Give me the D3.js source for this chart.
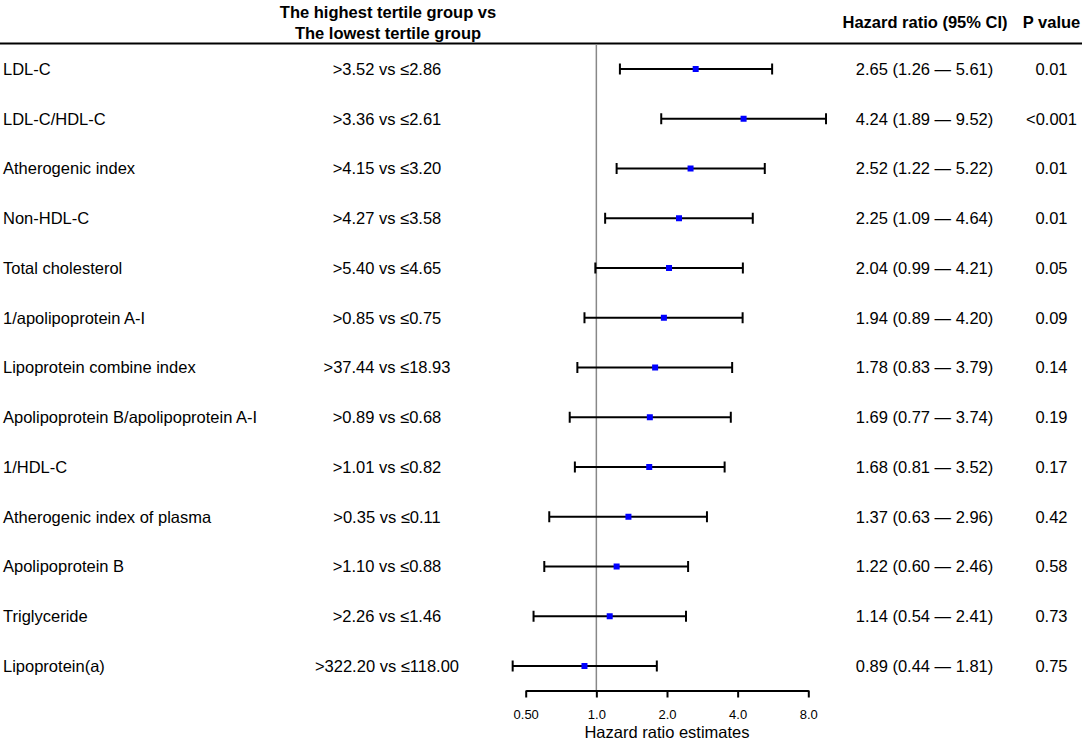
<!DOCTYPE html>
<html>
<head>
<meta charset="utf-8">
<script src="https://cdn.jsdelivr.net/npm/d3@7"></script>
<style>
  body { margin: 0; background: #fff; }
  text { font-family: "Liberation Sans", Arial, sans-serif; fill: #000; }
</style>
</head>
<body>
<div id="chart-area"></div>
<script>
// chart size matches the window
const width = 1084;
const height = 740;

// data
const variables = [
  'LDL-C',
  'LDL-C/HDL-C',
  'Atherogenic index',
  'Non-HDL-C',
  'Total cholesterol',
  '1/apolipoprotein A-I',
  'Lipoprotein combine index',
  'Apolipoprotein B/apolipoprotein A-I',
  '1/HDL-C',
  'Atherogenic index of plasma',
  'Apolipoprotein B',
  'Triglyceride',
  'Lipoprotein(a)',
];
const comparisons = [
  '>3.52 vs ≤2.86',
  '>3.36 vs ≤2.61',
  '>4.15 vs ≤3.20',
  '>4.27 vs ≤3.58',
  '>5.40 vs ≤4.65',
  '>0.85 vs ≤0.75',
  '>37.44 vs ≤18.93',
  '>0.89 vs ≤0.68',
  '>1.01 vs ≤0.82',
  '>0.35 vs ≤0.11',
  '>1.10 vs ≤0.88',
  '>2.26 vs ≤1.46',
  '>322.20 vs ≤118.00',
];
const hr = [2.65, 4.24, 2.52, 2.25, 2.04, 1.94, 1.78, 1.69, 1.68, 1.37, 1.22, 1.14, 0.89];
const lower = [1.26, 1.89, 1.22, 1.09, 0.99, 0.89, 0.83, 0.77, 0.81, 0.63, 0.60, 0.54, 0.44];
const upper = [5.61, 9.52, 5.22, 4.64, 4.21, 4.20, 3.79, 3.74, 3.52, 2.96, 2.46, 2.41, 1.81];
const pValues = ['0.01', '<0.001', '0.01', '0.01', '0.05', '0.09', '0.14', '0.19', '0.17', '0.42', '0.58', '0.73', '0.75'];
const tickValues = [0.5, 1, 2, 4, 8];
const tickLabels = ['0.50', '1.0', '2.0', '4.0', '8.0'];

const rows = variables.map((v, i) => ({
  name: v,
  comp: comparisons[i],
  hr: hr[i],
  lo: lower[i],
  hi: upper[i],
  p: pValues[i],
}));

const svg = d3
  .select('#chart-area')
  .append('svg')
  .attr('width', width)
  .attr('height', height);

// scales
const x = d3.scaleLog().base(2).domain([0.5, 8]).range([525.7, 808.3]);
const y = d3.scalePoint().domain(variables).range([69, 666]);

const fmt = d3.format('.2f');
const fontSize = 16.5;

// column headers
const header = svg.append('g').attr('font-weight', 'bold').attr('font-size', fontSize);
header
  .append('text')
  .attr('x', 388)
  .attr('y', 18)
  .attr('text-anchor', 'middle')
  .text('The highest tertile group vs');
header
  .append('text')
  .attr('x', 388)
  .attr('y', 39)
  .attr('text-anchor', 'middle')
  .text('The lowest tertile group');
header
  .append('text')
  .attr('x', 925)
  .attr('y', 28)
  .attr('text-anchor', 'middle')
  .text('Hazard ratio (95% CI)');
header
  .append('text')
  .attr('x', 1051.5)
  .attr('y', 28)
  .attr('text-anchor', 'middle')
  .text('P value');

// header rule
svg
  .append('line')
  .attr('x1', 0)
  .attr('x2', 1082)
  .attr('y1', 43.5)
  .attr('y2', 43.5)
  .attr('stroke', '#000')
  .attr('stroke-width', 2);

// reference line at HR = 1
svg
  .append('line')
  .attr('x1', x(1))
  .attr('x2', x(1))
  .attr('y1', 44)
  .attr('y2', 690)
  .attr('stroke', '#888')
  .attr('stroke-width', 1.5);

// row texts
const row = svg
  .selectAll('.row')
  .data(rows)
  .enter()
  .append('g')
  .attr('class', 'row')
  .attr('transform', (d) => `translate(0, ${y(d.name)})`)
  .attr('font-size', fontSize);

row.append('text').attr('x', 3).attr('dy', '0.35em').text((d) => d.name);
row
  .append('text')
  .attr('x', 387)
  .attr('dy', '0.35em')
  .attr('text-anchor', 'middle')
  .text((d) => d.comp);
row
  .append('text')
  .attr('x', 924.5)
  .attr('dy', '0.35em')
  .attr('text-anchor', 'middle')
  .text((d) => `${fmt(d.hr)} (${fmt(d.lo)} \u2014 ${fmt(d.hi)})`);
row
  .append('text')
  .attr('x', 1051.5)
  .attr('dy', '0.35em')
  .attr('text-anchor', 'middle')
  .text((d) => d.p);

// confidence intervals
row
  .append('line')
  .attr('x1', (d) => x(d.lo))
  .attr('x2', (d) => x(d.hi))
  .attr('stroke', '#000')
  .attr('stroke-width', 2);
row
  .append('line')
  .attr('x1', (d) => x(d.lo))
  .attr('x2', (d) => x(d.lo))
  .attr('y1', -5.5)
  .attr('y2', 5.5)
  .attr('stroke', '#000')
  .attr('stroke-width', 2);
row
  .append('line')
  .attr('x1', (d) => x(d.hi))
  .attr('x2', (d) => x(d.hi))
  .attr('y1', -5.5)
  .attr('y2', 5.5)
  .attr('stroke', '#000')
  .attr('stroke-width', 2);
row
  .append('rect')
  .attr('x', (d) => x(d.hr) - 3)
  .attr('y', -3)
  .attr('width', 6)
  .attr('height', 6)
  .attr('fill', '#0000ff');

// x axis
const xAxisCall = d3
  .axisBottom(x)
  .tickValues(tickValues)
  .tickSize(7)
  .tickSizeOuter(0)
  .tickPadding(12)
  .tickFormat((d, i) => tickLabels[i]);

const xAxis = svg
  .append('g')
  .attr('class', 'x axis')
  .attr('transform', 'translate(0, 690.5)')
  .call(xAxisCall);
xAxis.selectAll('path, line').attr('stroke', '#000').attr('stroke-width', 2);
xAxis
  .selectAll('text')
  .attr('font-family', '"Liberation Sans", Arial, sans-serif')
  .attr('font-size', 13)
  .attr('fill', '#000');

svg
  .append('text')
  .attr('x', (x.range()[0] + x.range()[1]) / 2)
  .attr('y', 738)
  .attr('text-anchor', 'middle')
  .attr('font-size', fontSize)
  .text('Hazard ratio estimates');
</script>
</body>
</html>
